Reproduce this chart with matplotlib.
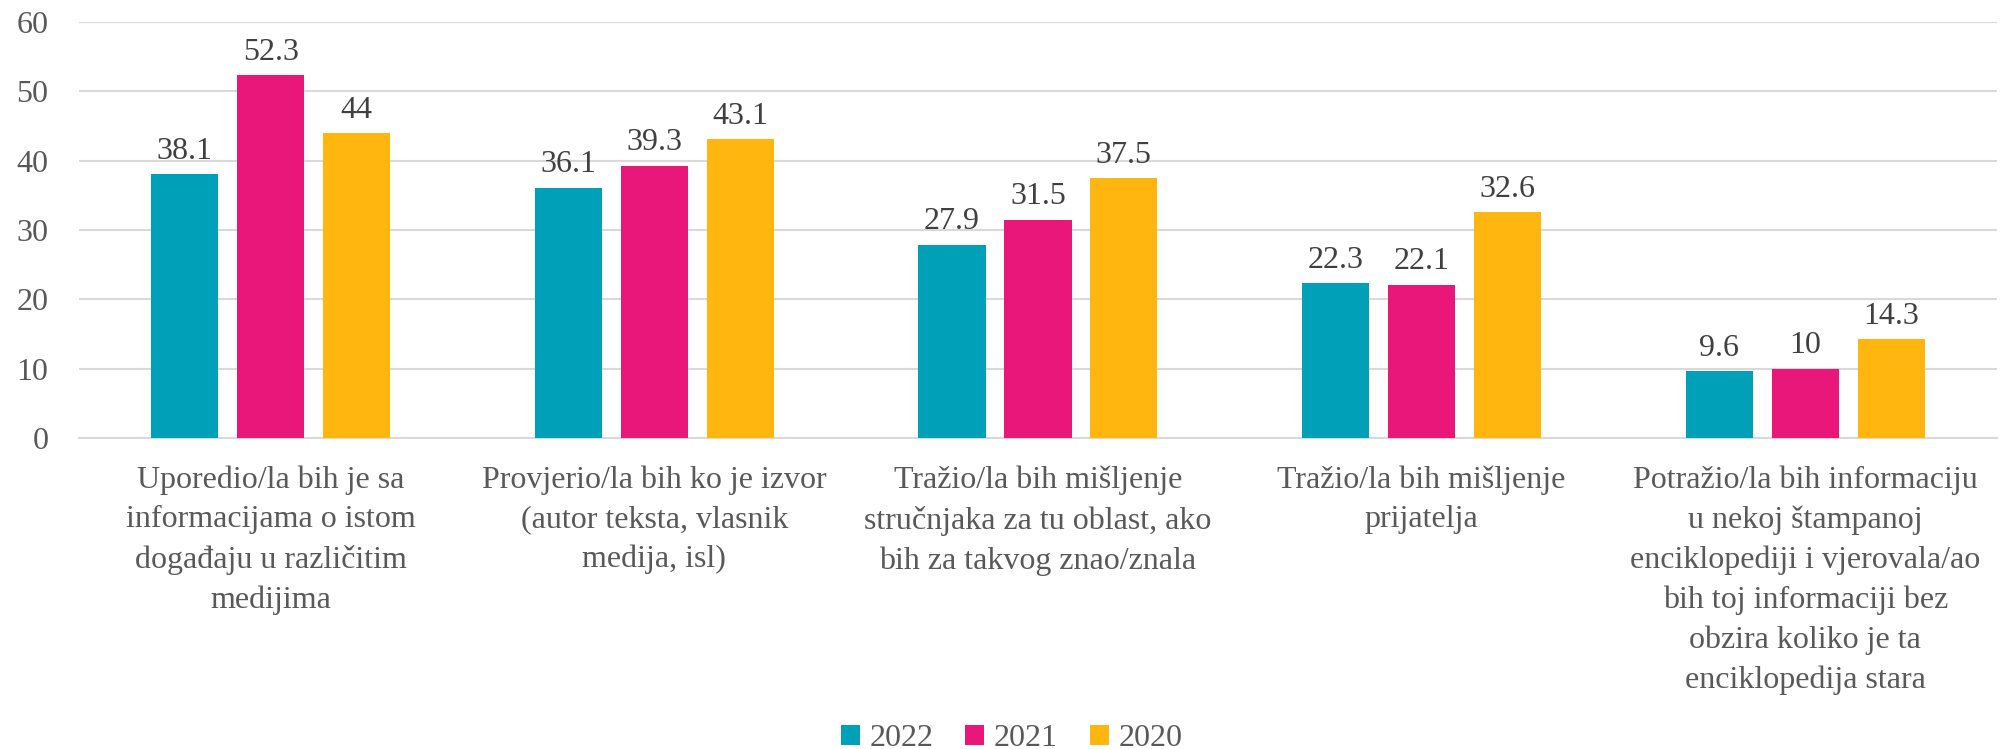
import matplotlib
matplotlib.use("Agg")
import matplotlib.pyplot as plt
import numpy as np

categories = [
    "Uporedio/la bih je sa\ninformacijama o istom\ndogađaju u različitim\nmedijima",
    "Provjerio/la bih ko je izvor\n(autor teksta, vlasnik\nmedija, isl)",
    "Tražio/la bih mišljenje\nstručnjaka za tu oblast, ako\nbih za takvog znao/znala",
    "Tražio/la bih mišljenje\nprijatelja",
    "Potražio/la bih informaciju\nu nekoj štampanoj\nenciklopediji i vjerovala/ao\nbih toj informaciji bez\nobzira koliko je ta\nenciklopedija stara",
]
series_names = ["2022", "2021", "2020"]
values_2022 = [38.1, 36.1, 27.9, 22.3, 9.6]
values_2021 = [52.3, 39.3, 31.5, 22.1, 10]
values_2020 = [44, 43.1, 37.5, 32.6, 14.3]
colors = ["#00A1B8", "#E9177A", "#FFB60F"]
yticks = [0, 10, 20, 30, 40, 50, 60]

plt.rcParams['font.family'] = ['Liberation Serif', 'DejaVu Serif']
text_color = "#595959"
fs = 23

fig = plt.figure(figsize=(20.03, 7.49), dpi=100)
ax = fig.add_axes([0.0394, 0.4152, 0.9576, 0.5554])

x = np.arange(len(categories))
step = 0.224
width = 0.175
for i, (name, vals) in enumerate(zip(series_names, [values_2022, values_2021, values_2020])):
    pos = x + (i - 1) * step
    bars = ax.bar(pos, vals, width=width, color=colors[i], label=name, zorder=3)
    ax.bar_label(bars, labels=[f"{v:g}" for v in vals], padding=6,
                 fontsize=fs, color="#404040")

ax.set_xlim(-0.5, len(categories) - 0.5)
ax.set_ylim(0, 60)
ax.set_yticks(yticks)
ax.set_yticklabels([str(t) for t in yticks], fontsize=fs, color=text_color)
ax.yaxis.grid(True, color="#D9D9D9", linewidth=1.5, zorder=0)
ax.set_axisbelow(True)
for s in ["top", "right", "left"]:
    ax.spines[s].set_visible(False)
ax.spines["bottom"].set_color("#D9D9D9")
ax.spines["bottom"].set_linewidth(1.5)
ax.tick_params(axis="y", length=0, pad=22)
ax.tick_params(axis="x", length=0, pad=20)
ax.set_xticks(x)
ax.set_xticklabels(categories, fontsize=fs, color=text_color, linespacing=1.46, ha="center", va="top")

fig.legend(loc="center", bbox_to_anchor=(0.505, 0.014), ncol=3, frameon=False,
           fontsize=fs, labelcolor=text_color, handlelength=0.6, handleheight=0.6,
           handletextpad=0.3, columnspacing=1.0, borderpad=0)

fig.savefig("out.png", dpi=100)
